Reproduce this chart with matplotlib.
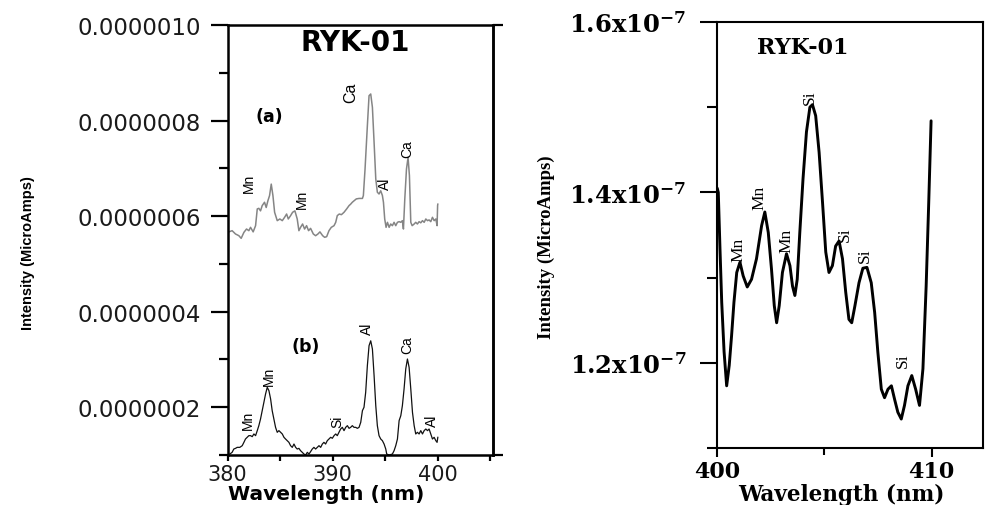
import matplotlib
matplotlib.use("Agg")
import matplotlib.pyplot as plt
import numpy as np

plt.rcParams['mathtext.fontset'] = 'dejavuserif'

# ---------------- data: left panel (intensity in units of 1e-6 microamps) -------------
wl_a = [380.13, 380.44, 380.76, 381.08, 381.30, 381.56, 381.81, 382.03, 382.19, 382.44,
        382.67, 382.83, 382.98, 383.14, 383.30, 383.52, 383.68, 383.84, 384.00, 384.16,
        384.32, 384.48, 384.73, 384.98, 385.21, 385.43, 385.62, 385.78, 386.00, 386.19,
        386.41, 386.63, 386.79, 386.95, 387.14, 387.33, 387.52, 387.71, 387.90, 388.16,
        388.38, 388.60, 388.79, 389.05, 389.24, 389.43, 389.65, 389.87, 390.13, 390.29,
        390.44, 390.63, 390.83, 391.08, 391.33, 391.56, 391.71, 391.87, 392.03, 392.25,
        392.51, 392.83, 392.92, 393.08, 393.30, 393.46, 393.62, 393.78, 393.94, 394.10,
        394.25, 394.41, 394.57, 394.73, 394.83, 394.95, 395.08, 395.21, 395.37, 395.52,
        395.68, 395.84, 396.00, 396.16, 396.32, 396.48, 396.63, 396.73, 396.86, 397.02,
        397.17, 397.30, 397.43, 397.56, 397.75, 397.90, 398.06, 398.22, 398.38, 398.54,
        398.70, 398.86, 399.02, 399.17, 399.33, 399.49, 399.65, 399.81, 399.93, 399.98, 400.0]
int_a = [0.567, 0.5695, 0.5626, 0.559, 0.5535, 0.566, 0.573, 0.5695, 0.5765, 0.567,
         0.58, 0.615, 0.6163, 0.611, 0.622, 0.629, 0.618, 0.632, 0.643, 0.667,
         0.643, 0.608, 0.5905, 0.594, 0.5905, 0.5975, 0.6044, 0.594, 0.601, 0.608,
         0.611, 0.594, 0.5695, 0.5765, 0.5835, 0.573, 0.58, 0.5695, 0.5744, 0.5626,
         0.559, 0.5626, 0.567, 0.559, 0.5556, 0.557, 0.5695, 0.5765, 0.58, 0.587,
         0.601, 0.6044, 0.603, 0.608, 0.615, 0.622, 0.625, 0.629, 0.632, 0.636,
         0.637, 0.637, 0.643, 0.6986, 0.789, 0.852, 0.8556, 0.8277, 0.754, 0.678,
         0.650, 0.6463, 0.653, 0.643, 0.629, 0.594, 0.5765, 0.587, 0.5765, 0.5835,
         0.58, 0.587, 0.58, 0.587, 0.5884, 0.587, 0.5905, 0.573, 0.636, 0.6986,
         0.723, 0.6846, 0.587, 0.58, 0.5835, 0.587, 0.5835, 0.5884, 0.586, 0.5905,
         0.587, 0.594, 0.5905, 0.592, 0.5884, 0.5975, 0.5905, 0.594, 0.58, 0.622, 0.625]

wl_b = [380.22, 380.44, 380.60, 380.76, 380.92, 381.17, 381.40, 381.56, 381.71, 381.87,
        382.03, 382.19, 382.35, 382.51, 382.67, 382.83, 382.98, 383.14, 383.30, 383.46,
        383.62, 383.78, 383.94, 384.10, 384.25, 384.41, 384.57, 384.73, 384.89, 385.05,
        385.21, 385.37, 385.52, 385.68, 385.84, 386.00, 386.16, 386.32, 386.48, 386.63,
        386.79, 386.95, 387.11, 387.27, 387.43, 387.59, 387.75, 387.90, 388.06, 388.22,
        388.38, 388.54, 388.70, 388.86, 389.02, 389.17, 389.33, 389.49, 389.65, 389.81,
        389.97, 390.13, 390.29, 390.44, 390.60, 390.76, 390.92, 391.08, 391.24, 391.40,
        391.56, 391.71, 391.87, 392.03, 392.19, 392.35, 392.51, 392.67, 392.83, 392.98,
        393.14, 393.30, 393.46, 393.62, 393.78, 393.94, 394.10, 394.25, 394.41, 394.57,
        394.73, 394.89, 395.05, 395.14, 395.37, 395.68, 395.84, 396.00, 396.16, 396.32,
        396.48, 396.63, 396.79, 396.95, 397.11, 397.27, 397.43, 397.59, 397.75, 397.90,
        398.06, 398.22, 398.38, 398.54, 398.70, 398.86, 399.02, 399.17, 399.33, 399.49,
        399.65, 399.81, 399.93, 400.0]
int_b = [0.102, 0.1056, 0.1125, 0.1139, 0.116, 0.116, 0.1195, 0.1265, 0.1335, 0.137,
         0.1405, 0.1405, 0.1384, 0.144, 0.1405, 0.151, 0.1614, 0.1753, 0.1928, 0.2102,
         0.2277, 0.2416, 0.2346, 0.2172, 0.1928, 0.1753, 0.1579, 0.1475, 0.151, 0.1475,
         0.144, 0.137, 0.1335, 0.13, 0.1265, 0.1195, 0.116, 0.123, 0.116, 0.1125,
         0.1139, 0.109, 0.1056, 0.102, 0.100, 0.1056, 0.102, 0.107, 0.1125, 0.116,
         0.1125, 0.116, 0.1195, 0.116, 0.123, 0.1265, 0.123, 0.13, 0.1335, 0.137,
         0.135, 0.1405, 0.144, 0.1405, 0.1475, 0.1544, 0.1579, 0.151, 0.1579, 0.1614,
         0.1558, 0.1579, 0.1614, 0.1579, 0.1579, 0.1558, 0.1579, 0.1684, 0.1928, 0.1998,
         0.2312, 0.287, 0.3288, 0.339, 0.3218, 0.266, 0.2032, 0.1614, 0.1405, 0.1335,
         0.13, 0.123, 0.1125, 0.102, 0.100, 0.102, 0.109, 0.1195, 0.1335, 0.172,
         0.1823, 0.2032, 0.2381, 0.28, 0.3009, 0.2835, 0.2381, 0.1893, 0.1614, 0.144,
         0.1475, 0.144, 0.151, 0.144, 0.151, 0.1544, 0.151, 0.1544, 0.144, 0.1335,
         0.137, 0.13, 0.1265, 0.137]
scale_left = 1e-6

# ---------------- data: right panel (intensity in units of 1e-7 microamps) ------------
wl_r = [400.01, 400.06, 400.14, 400.22, 400.33, 400.45, 400.57, 400.68, 400.79, 400.92,
        401.07, 401.22, 401.41, 401.61, 401.84, 402.08, 402.23, 402.39, 402.54, 402.67,
        402.78, 402.90, 403.05, 403.24, 403.40, 403.52, 403.63, 403.74, 403.86, 404.01,
        404.17, 404.33, 404.45, 404.60, 404.76, 404.92, 405.07, 405.22, 405.38, 405.53,
        405.69, 405.85, 406.00, 406.15, 406.28, 406.43, 406.62, 406.80, 406.99, 407.19,
        407.35, 407.50, 407.66, 407.81, 407.97, 408.13, 408.28, 408.43, 408.59, 408.74,
        408.90, 409.08, 409.26, 409.44, 409.60, 409.75, 409.87, 409.98]
int_r = [1.405, 1.400, 1.333, 1.271, 1.213, 1.173, 1.197, 1.232, 1.271, 1.306,
         1.318, 1.302, 1.289, 1.298, 1.322, 1.361, 1.377, 1.353, 1.310, 1.267,
         1.247, 1.267, 1.306, 1.328, 1.314, 1.290, 1.279, 1.298, 1.353, 1.416,
         1.471, 1.500, 1.503, 1.490, 1.447, 1.388, 1.330, 1.306, 1.314, 1.337,
         1.343, 1.322, 1.283, 1.251, 1.247, 1.267, 1.294, 1.311, 1.312, 1.294,
         1.259, 1.212, 1.169, 1.159, 1.169, 1.173, 1.157, 1.142, 1.134, 1.150,
         1.173, 1.185, 1.169, 1.150, 1.193, 1.290, 1.388, 1.484]
scale_right = 1e-7

# ---------------- peak labels ----------------
ann_a_text = ['Mn', 'Mn', 'Ca', 'Al', 'Ca']
ann_a_x = [382.0, 387.05, 391.7, 395.0, 397.1]
ann_a_y = [0.650, 0.616, 0.838, 0.657, 0.723]
ann_b_text = ['Mn', 'Mn', 'Si', 'Al', 'Ca', 'Al']
ann_b_x = [381.9, 383.9, 390.4, 393.3, 397.1, 399.4]
ann_b_y = [0.154, 0.247, 0.158, 0.353, 0.313, 0.161]
ann_r_text = ['Mn', 'Mn', 'Mn', 'Si', 'Si', 'Si', 'Si']
ann_r_x = [401.0, 402.0, 403.24, 404.33, 405.95, 406.88, 408.67]
ann_r_y = [1.320, 1.380, 1.330, 1.504, 1.343, 1.318, 1.195]

# ---------------- ticks ----------------
left_yticks = [0.0000002, 0.0000004, 0.0000006, 0.0000008, 0.0000010]
left_yticklabels = ['0.0000002', '0.0000004', '0.0000006', '0.0000008', '0.0000010']
left_yminor = [0.0000001, 0.0000003, 0.0000005, 0.0000007, 0.0000009]
left_xticks = [380, 390, 400]
left_xminor = [385, 395, 405]
right_yticks = [1.2e-7, 1.4e-7, 1.6e-7]
right_yticklabels = [r'$\mathbf{1.2x10^{-7}}$', r'$\mathbf{1.4x10^{-7}}$', r'$\mathbf{1.6x10^{-7}}$']
right_yminor = [1.1e-7, 1.3e-7, 1.5e-7]
right_xticks = [400, 410]
right_xminor = [405]

title = 'RYK-01'
xlabel = 'Wavelength (nm)'
ylabel = 'Intensity (MicroAmps)'

# ---------------- figure ----------------
fig = plt.figure(figsize=(9.93, 5.06), dpi=100)
axL = fig.add_axes([227.5 / 993, 50 / 506, 265 / 993, 430 / 506])
axR = fig.add_axes([717 / 993, 57 / 506, 266 / 993, 426 / 506])

# left panel
axL.plot(wl_a, np.array(int_a) * scale_left, color='#858585', lw=1.1)
axL.plot(wl_b, np.array(int_b) * scale_left, color='#111111', lw=0.9)
axL.set_xlim(380, 405.2)
axL.set_ylim(1e-7, 1e-6)
axL.set_yticks(left_yticks, left_yticklabels)
axL.set_yticks(left_yminor, minor=True)
axL.set_xticks(left_xticks, [str(v) for v in left_xticks])
axL.set_xticks(left_xminor, minor=True)
for lab in axL.get_yticklabels():
    lab.set_family('DejaVu Sans')
    lab.set_fontsize(16.5)
    lab.set_color('#1a1a1a')
for lab in axL.get_xticklabels():
    lab.set_family('DejaVu Sans')
    lab.set_fontsize(15)
    lab.set_color('#1a1a1a')
axL.tick_params(axis='y', which='major', direction='out', length=12, width=1.6, pad=7)
axL.tick_params(axis='y', which='minor', direction='out', length=6.5, width=1.6)
axL.tick_params(axis='x', which='both', direction='out', length=4.5, width=1.6, pad=2)
for sp in axL.spines.values():
    sp.set_linewidth(1.8)
sec = axL.secondary_yaxis('right')
sec.set_yticks([1e-7, 1e-6], ['', ''])
sec.tick_params(direction='out', length=7.5, width=1.6)
sec.spines['right'].set_linewidth(1.8)

axL.set_xlabel(xlabel, family='DejaVu Sans', fontsize=14.5, fontweight='bold')
axL.xaxis.set_label_coords(0.372, -0.0686)
axL.set_ylabel(ylabel, family='Liberation Sans', fontsize=10.5, fontweight='bold')
axL.yaxis.set_label_coords(-0.726, 0.472)

axL.text(0.481, 0.960, title, transform=axL.transAxes, ha='center', va='center',
         family='DejaVu Sans', fontsize=20, fontweight='bold')
axL.text(0.157, 0.788, '(a)', transform=axL.transAxes, ha='center', va='center',
         family='DejaVu Sans', fontsize=12.5, fontweight='bold')
axL.text(0.296, 0.253, '(b)', transform=axL.transAxes, ha='center', va='center',
         family='DejaVu Sans', fontsize=12.5, fontweight='bold')
for t, x, y in zip(ann_a_text, ann_a_x, ann_a_y):
    fs = 11.5 if (t == 'Ca' and y > 0.8) else 10
    axL.text(x, y * scale_left, t, rotation=90, ha='center', va='bottom',
             family='Liberation Sans', fontsize=fs)
for t, x, y in zip(ann_b_text, ann_b_x, ann_b_y):
    axL.text(x, y * scale_left, t, rotation=90, ha='center', va='bottom',
             family='Liberation Sans', fontsize=10)

# right panel
axR.plot(wl_r, np.array(int_r) * scale_right, color='black', lw=2.1,
         solid_joinstyle='round', solid_capstyle='round')
axR.set_xlim(400, 412.4)
axR.set_ylim(1.1e-7, 1.6e-7)
axR.set_yticks(right_yticks, right_yticklabels)
axR.set_yticks(right_yminor, minor=True)
axR.set_xticks(right_xticks, [str(v) for v in right_xticks])
axR.set_xticks(right_xminor, minor=True)
for lab in axR.get_yticklabels():
    lab.set_fontsize(17.5)
for lab in axR.get_xticklabels():
    lab.set_family('DejaVu Serif')
    lab.set_fontweight('bold')
    lab.set_fontsize(16)
axR.tick_params(axis='y', which='major', direction='out', length=12, width=1.5, pad=10)
axR.tick_params(axis='y', which='minor', direction='out', length=7.5, width=1.5)
axR.tick_params(axis='x', which='major', direction='out', length=6.5, width=1.5, pad=2)
axR.tick_params(axis='x', which='minor', direction='out', length=5, width=1.5)
for sp in axR.spines.values():
    sp.set_linewidth(1.5)

axR.set_xlabel(xlabel, family='DejaVu Serif', fontsize=15.5, fontweight='bold')
axR.xaxis.set_label_coords(0.466, -0.0822)
axR.set_ylabel(ylabel, family='Liberation Serif', fontsize=13.5, fontweight='bold')
axR.yaxis.set_label_coords(-0.609, 0.474)

axR.text(0.323, 0.941, title, transform=axR.transAxes, ha='center', va='center',
         family='DejaVu Serif', fontsize=16, fontweight='bold')
for t, x, y in zip(ann_r_text, ann_r_x, ann_r_y):
    axR.text(x, y * scale_right, t, rotation=90, ha='center', va='bottom',
             family='Liberation Serif', fontsize=12.5)

fig.savefig('out.png', dpi=100)
